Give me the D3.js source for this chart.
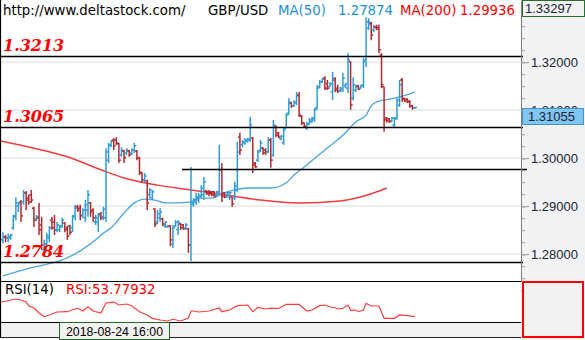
<!DOCTYPE html>
<html><head><meta charset="utf-8">
<script src="https://cdn.jsdelivr.net/npm/d3@7"></script>
<style>
html,body{margin:0;padding:0;background:#fff;}
svg{display:block;}
</style></head><body>
<svg id="chart" width="585" height="340"></svg>
<script>
// GBP/USD price bars (oldest first)
const opens = [
1.2830,1.2836,1.2834,1.2834,1.2855,1.2878,1.2901,1.2909,1.2909,1.2928,
1.2917,1.2924,1.2896,1.2874,1.2876,1.2861,1.2809,1.2821,1.2834,1.2871,
1.2867,1.2851,1.2851,1.2859,1.2865,1.2855,1.2859,1.2855,1.2880,1.2899,
1.2896,1.2882,1.2876,1.2892,1.2907,1.2892,1.2867,1.2867,1.2884,1.2878,
1.2876,1.2996,1.3028,1.3038,1.3038,1.3030,1.3007,1.3015,1.3011,1.3015,
1.3011,1.3017,1.3015,1.3001,1.2969,1.2955,1.2953,1.2924,1.2917,1.2894,
1.2867,1.2876,1.2874,1.2859,1.2857,1.2859,1.2821,1.2859,1.2851,1.2863,
1.2861,1.2855,1.2853,1.2819,1.2903,1.2909,1.2913,1.2921,1.2924,1.2932,
1.2930,1.2930,1.2930,1.2924,1.2930,1.2976,1.2928,1.2921,1.2919,1.2919,
1.2917,1.2934,1.3044,1.3028,1.3032,1.3036,1.3038,1.3042,1.2990,1.2996,
1.3017,1.3021,1.3017,1.3013,1.3038,1.3007,1.3065,1.3053,1.3040,1.3032,
1.3063,1.3094,1.3115,1.3109,1.3115,1.3132,1.3088,1.3074,1.3063,1.3071,
1.3076,1.3080,1.3105,1.3149,1.3159,1.3167,1.3155,1.3149,1.3138,1.3163,
1.3146,1.3140,1.3142,1.3151,1.3146,1.3201,1.3125,1.3142,1.3151,1.3146,
1.3153,1.3205,1.3271,1.3280,1.3267,1.3273,1.3273,1.3215,1.3149,1.3084,
1.3082,1.3078,1.3069,1.3084,1.3111,1.3163,1.3125,1.3123,1.3119,1.3109,
1.3105];
const highs = [
1.2846,1.2840,1.2844,1.2842,1.2882,1.2919,1.2909,1.2913,1.2934,1.2932,
1.2924,1.2934,1.2899,1.2882,1.2907,1.2878,1.2830,1.2844,1.2859,1.2878,
1.2882,1.2867,1.2861,1.2876,1.2867,1.2859,1.2861,1.2882,1.2903,1.2903,
1.2903,1.2896,1.2913,1.2934,1.2909,1.2896,1.2882,1.2886,1.2888,1.2899,
1.3021,1.3032,1.3038,1.3042,1.3044,1.3032,1.3023,1.3017,1.3021,1.3017,
1.3021,1.3032,1.3017,1.3003,1.2971,1.2969,1.2955,1.2938,1.2934,1.2896,
1.2892,1.2896,1.2876,1.2869,1.2861,1.2861,1.2861,1.2871,1.2871,1.2865,
1.2863,1.2865,1.2855,1.2982,1.2917,1.2928,1.2928,1.2944,1.2961,1.2934,
1.2934,1.2932,1.2932,1.2932,1.3028,1.2990,1.2930,1.2930,1.2930,1.2919,
1.2951,1.3034,1.3053,1.3038,1.3042,1.3042,1.3086,1.3044,1.2992,1.3017,
1.3038,1.3023,1.3021,1.3044,1.3042,1.3080,1.3069,1.3055,1.3048,1.3065,
1.3094,1.3125,1.3117,1.3121,1.3138,1.3138,1.3090,1.3074,1.3076,1.3084,
1.3086,1.3105,1.3153,1.3163,1.3167,1.3171,1.3163,1.3159,1.3180,1.3169,
1.3153,1.3149,1.3178,1.3157,1.3219,1.3201,1.3169,1.3153,1.3153,1.3153,
1.3209,1.3294,1.3292,1.3284,1.3278,1.3278,1.3278,1.3219,1.3149,1.3086,
1.3084,1.3086,1.3086,1.3125,1.3163,1.3167,1.3125,1.3125,1.3121,1.3111,
1.3107];
const lows = [
1.2823,1.2825,1.2825,1.2830,1.2851,1.2871,1.2888,1.2867,1.2903,1.2892,
1.2903,1.2907,1.2857,1.2869,1.2840,1.2809,1.2798,1.2815,1.2825,1.2851,
1.2840,1.2846,1.2846,1.2855,1.2846,1.2830,1.2840,1.2846,1.2871,1.2888,
1.2871,1.2876,1.2867,1.2878,1.2878,1.2867,1.2861,1.2846,1.2871,1.2871,
1.2867,1.2990,1.3023,1.3017,1.3028,1.2990,1.3003,1.2990,1.3007,1.3003,
1.3007,1.3011,1.2996,1.2965,1.2949,1.2949,1.2892,1.2917,1.2913,1.2857,
1.2863,1.2867,1.2859,1.2855,1.2855,1.2817,1.2813,1.2857,1.2840,1.2851,
1.2851,1.2851,1.2803,1.2786,1.2899,1.2903,1.2907,1.2917,1.2913,1.2924,
1.2921,1.2921,1.2919,1.2921,1.2924,1.2909,1.2917,1.2919,1.2913,1.2899,
1.2913,1.2930,1.3007,1.3023,1.3028,1.3032,1.3034,1.2969,1.2980,1.2992,
1.3013,1.3007,1.3007,1.3011,1.2980,1.3003,1.3044,1.3042,1.3038,1.3028,
1.3063,1.3090,1.3105,1.3107,1.3111,1.3086,1.3069,1.3065,1.3059,1.3069,
1.3074,1.3076,1.3101,1.3146,1.3157,1.3142,1.3142,1.3149,1.3121,1.3138,
1.3136,1.3138,1.3138,1.3146,1.3136,1.3101,1.3121,1.3138,1.3142,1.3146,
1.3146,1.3190,1.3267,1.3246,1.3263,1.3267,1.3219,1.3146,1.3055,1.3074,
1.3074,1.3076,1.3065,1.3080,1.3107,1.3117,1.3117,1.3115,1.3105,1.3101,
1.3103];
const closes = [
1.2836,1.2834,1.2838,1.2840,1.2880,1.2907,1.2905,1.2880,1.2928,1.2913,
1.2909,1.2913,1.2871,1.2878,1.2851,1.2819,1.2821,1.2838,1.2855,1.2855,
1.2851,1.2861,1.2857,1.2871,1.2851,1.2838,1.2846,1.2878,1.2896,1.2892,
1.2880,1.2892,1.2903,1.2924,1.2888,1.2876,1.2876,1.2880,1.2876,1.2894,
1.3013,1.3026,1.3036,1.3026,1.3032,1.2996,1.3017,1.3001,1.3017,1.3007,
1.3017,1.3026,1.3001,1.2971,1.2955,1.2963,1.2907,1.2934,1.2930,1.2863,
1.2884,1.2888,1.2863,1.2867,1.2859,1.2830,1.2855,1.2867,1.2867,1.2855,
1.2853,1.2861,1.2819,1.2907,1.2913,1.2919,1.2921,1.2938,1.2951,1.2926,
1.2926,1.2924,1.2921,1.2930,1.2976,1.2921,1.2919,1.2928,1.2928,1.2905,
1.2942,1.3013,1.3017,1.3034,1.3038,1.3040,1.3069,1.2986,1.2982,1.3013,
1.3032,1.3011,1.3013,1.3038,1.2996,1.3069,1.3048,1.3044,1.3046,1.3059,
1.3090,1.3117,1.3109,1.3117,1.3130,1.3090,1.3074,1.3067,1.3071,1.3080,
1.3084,1.3101,1.3146,1.3159,1.3165,1.3146,1.3146,1.3155,1.3167,1.3142,
1.3140,1.3146,1.3167,1.3155,1.3205,1.3111,1.3153,1.3149,1.3144,1.3151,
1.3201,1.3284,1.3284,1.3257,1.3273,1.3269,1.3226,1.3153,1.3080,1.3078,
1.3076,1.3084,1.3082,1.3121,1.3153,1.3123,1.3119,1.3117,1.3109,1.3105,
1.31055];

// Moving averages as [bar index, value]
const ma50 = [[0,1.2755],[9,1.2769],[16,1.2778],[22,1.2786],[30,1.2807],[36,1.2830],[39,1.2844],[42,1.2855],
  [47,1.2886],[51,1.2907],[55,1.2915],[59,1.2913],[63,1.2907],[67,1.2907],[73,1.2909],[76,1.2917],[81,1.2917],
  [86,1.2928],[90,1.2934],[95,1.2938],[100,1.2938],[104,1.2938],[110,1.2949],[113,1.2965],[117,1.2982],
  [125,1.3017],[133,1.3053],[137,1.3076],[141,1.3090],[143,1.3109],[146,1.3119],[150,1.3123],[154,1.3128],[160,1.3138]];
const ma200 = [[-1,1.3036],[12,1.3021],[25,1.3003],[38,1.2976],[47,1.2959],[60,1.2944],[73,1.2934],[86,1.2924],
  [100,1.2913],[115,1.2907],[131,1.2911],[143,1.2926],[149,1.2938]];

// RSI(14) as [bar index, value]
const rsi = [[-1,72.3],[5,76.5],[7,75.2],[9,72.6],[10,67.9],[12,64.9],[14,58.5],[16,53.8],[18,56.0],[21,59.8],
  [25,60.2],[29,64.9],[31,61.1],[33,66.6],[35,61.1],[38,58.5],[40,71.4],[43,72.6],[45,68.8],[48,70.1],[50,67.9],
  [53,60.2],[56,56.0],[58,51.7],[61,49.6],[64,48.3],[66,50.5],[69,48.3],[72,52.1],[73,61.1],[74,61.1],[76,59.8],
  [80,61.1],[84,64.9],[85,60.2],[88,62.4],[91,67.9],[95,68.8],[97,60.2],[99,65.8],[102,63.7],[104,64.9],[107,64.3],
  [110,69.7],[115,69.7],[118,61.1],[120,62.4],[123,67.9],[125,68.8],[127,66.2],[129,65.3],[130,63.7],[132,64.6],
  [134,68.8],[135,62.0],[137,62.4],[138,60.2],[140,62.4],[141,71.0],[143,67.5],[146,67.5],[148,51.7],[152,51.7],
  [154,56.0],[157,55.1],[160,53.77932]];

// Support / resistance levels
const levels = [1.3213, 1.3065, 1.2784];
const partialLevel = {value: 1.2977, fromBar: 69.5};
const priceTicks = [1.28, 1.29, 1.30, 1.31, 1.32];
const axisTop = 1.33297;
const axisBottom = 1.274428;
const lastPrice = 1.31055;
const rsiDomain = [47, 98.3];
const cursorDate = "2018-08-24 16:00";
const header = {site: "http://www.deltastock.com/", pair: "GBP/USD", ma50: "1.27874", ma200: "1.29936"};

const W = 585, plotR = 521, mainB = 281, rsiT = 282, rsiB = 322, dateB = 337;
const UP = "#2f9bd6", DOWN = "#b3282d";
const svg = d3.select("#chart");
const n = closes.length;

const x = d3.scaleLinear().domain([0, n - 1]).range([3, 415]);
const y = d3.scaleLinear().domain([axisBottom, axisTop]).range([mainB, 0]);
const yr = d3.scaleLinear().domain(rsiDomain).range([rsiB, rsiT]);

svg.append("rect").attr("width", W).attr("height", 340).attr("fill", "#fff");
// right price axis panel
svg.append("rect").attr("x", plotR).attr("y", 0).attr("width", W - plotR).attr("height", 340).attr("fill", "#f2f2f2");
// date band
svg.append("rect").attr("x", 0).attr("y", rsiB).attr("width", plotR).attr("height", dateB - rsiB).attr("fill", "#f2f2f2");

const defs = svg.append("defs");
defs.append("clipPath").attr("id", "mainClip").append("rect")
  .attr("x", 0).attr("y", 0).attr("width", plotR).attr("height", mainB);
defs.append("clipPath").attr("id", "rsiClip").append("rect")
  .attr("x", 0).attr("y", rsiT).attr("width", plotR).attr("height", rsiB - rsiT);

const main = svg.append("g").attr("clip-path", "url(#mainClip)");

// grid
main.selectAll("line.grid").data(priceTicks).join("line")
  .attr("x1", 0).attr("x2", plotR)
  .attr("y1", d => y(d)).attr("y2", d => y(d))
  .attr("stroke", "#e8e8e8").attr("stroke-width", 1.6);

// moving averages
const lineGen = d3.line().x(d => x(d[0])).y(d => y(d[1])).curve(d3.curveMonotoneX);
main.append("path").datum(ma200).attr("d", lineGen)
  .attr("fill", "none").attr("stroke", "#f23b3b").attr("stroke-width", 1.5);
main.append("path").datum(ma50).attr("d", lineGen)
  .attr("fill", "none").attr("stroke", "#4aa6dc").attr("stroke-width", 1.3);

// OHLC bars
const bars = main.selectAll("g.bar").data(d3.range(n)).join("g")
  .attr("stroke", i => closes[i] >= opens[i] ? UP : DOWN)
  .attr("stroke-width", 1.5);
bars.append("line")
  .attr("x1", i => x(i)).attr("x2", i => x(i))
  .attr("y1", i => y(highs[i])).attr("y2", i => y(lows[i]));
bars.append("line")
  .attr("x1", i => x(i) - 2).attr("x2", i => x(i))
  .attr("y1", i => y(opens[i])).attr("y2", i => y(opens[i]));
bars.append("line")
  .attr("x1", i => x(i)).attr("x2", i => x(i) + 2)
  .attr("y1", i => y(closes[i])).attr("y2", i => y(closes[i]));

// level lines (drawn over the plot edge)
svg.selectAll("line.level").data(levels).join("line")
  .attr("x1", 0).attr("x2", plotR + 2)
  .attr("y1", d => Math.round(y(d)) + 0.5).attr("y2", d => Math.round(y(d)) + 0.5)
  .attr("stroke", "#000").attr("stroke-width", 1.3);
svg.append("line")
  .attr("x1", x(partialLevel.fromBar)).attr("x2", plotR + 6)
  .attr("y1", Math.round(y(partialLevel.value)) + 0.5).attr("y2", Math.round(y(partialLevel.value)) + 0.5)
  .attr("stroke", "#000").attr("stroke-width", 1.3);

// level labels
svg.selectAll("text.lvl").data(levels).join("text")
  .attr("x", 3).attr("y", d => y(d) - 5)
  .attr("font-family", "DejaVu Serif").attr("font-weight", "bold").attr("font-style", "italic")
  .attr("font-size", 16).attr("fill", "#ff0000")
  .text(d => d.toFixed(4));

// price axis
const axisG = svg.append("g").attr("transform", `translate(${plotR},0)`);
const minor = d3.range(1.2725, 1.3335, 0.0025);
axisG.append("g").call(d3.axisRight(y).tickValues(minor).tickSize(4).tickSizeOuter(0).tickFormat(""))
  .call(g => g.select(".domain").attr("stroke", "#7a7a7a"))
  .call(g => g.selectAll(".tick line").attr("stroke", "#9a9a9a"));
axisG.append("g").call(d3.axisRight(y).tickValues(priceTicks).tickSize(8).tickSizeOuter(0).tickPadding(2)
    .tickFormat(d3.format(".5f")))
  .call(g => g.select(".domain").remove())
  .call(g => g.selectAll(".tick line").attr("stroke", "#9a9a9a"))
  .call(g => g.selectAll(".tick text").attr("font-family", "Liberation Sans").attr("font-size", 13)
    .attr("fill", "#1a2238"));

// current price marker
svg.append("rect").attr("x", plotR + 1.5).attr("y", Math.round(y(lastPrice)) + 0.5)
  .attr("width", 61).attr("height", 16).attr("fill", "#80c6ee").attr("stroke", "#3d93d3");
svg.append("text").attr("x", plotR + 7).attr("y", y(lastPrice) + 13)
  .attr("font-family", "Liberation Sans").attr("font-size", 13).attr("fill", "#1a2238")
  .text(d3.format(".5f")(lastPrice));

// top-of-scale marker
svg.append("rect").attr("x", plotR + 1.5).attr("y", y(axisTop) + 0.5)
  .attr("width", 62).attr("height", 16).attr("fill", "#f2f2f2").attr("stroke", "#2b6e2b");
svg.append("text").attr("x", plotR + 4).attr("y", y(axisTop) + 13)
  .attr("font-family", "Liberation Sans").attr("font-size", 13).attr("fill", "#1a2238")
  .text(d3.format(".5f")(axisTop));

// RSI panel
svg.append("line").attr("x1", 0).attr("x2", plotR).attr("y1", mainB + 0.5).attr("y2", mainB + 0.5)
  .attr("stroke", "#000").attr("stroke-width", 1.2);
svg.append("line").attr("x1", 0).attr("x2", plotR).attr("y1", rsiB + 0.5).attr("y2", rsiB + 0.5)
  .attr("stroke", "#000").attr("stroke-width", 1.2);
svg.append("g").attr("clip-path", "url(#rsiClip)").append("path").datum(rsi)
  .attr("d", d3.line().x(d => x(d[0])).y(d => yr(d[1])))
  .attr("fill", "none").attr("stroke", "#ff3b3b").attr("stroke-width", 1.2);
svg.append("text").attr("x", 5).attr("y", 294)
  .attr("font-family", "DejaVu Sans").attr("font-size", 13.3).attr("fill", "#000").text("RSI(14)");
svg.append("text").attr("x", 66).attr("y", 294)
  .attr("font-family", "DejaVu Sans").attr("font-size", 13.3).attr("fill", "#ff0000")
  .text("RSI:" + rsi[rsi.length - 1][1].toFixed(5));
svg.append("rect").attr("x", plotR + 2).attr("y", rsiT).attr("width", 60).attr("height", dateB - rsiT)
  .attr("fill", "#f2f2f2").attr("stroke", "#ff0000").attr("stroke-width", 2);

// date band
svg.append("line").attr("x1", 0).attr("x2", plotR).attr("y1", dateB + 0.5).attr("y2", dateB + 0.5)
  .attr("stroke", "#222").attr("stroke-width", 1);
svg.append("rect").attr("x", 59.5).attr("y", rsiB + 0.5).attr("width", 110).attr("height", 17)
  .attr("fill", "#f2f2f2").attr("stroke", "#1f6b1f");
svg.append("text").attr("x", 114.5).attr("y", rsiB + 13.5).attr("text-anchor", "middle")
  .attr("font-family", "Liberation Sans").attr("font-size", 12.3).attr("fill", "#000").text(cursorDate);

// left frame edge
svg.append("line").attr("x1", 0.5).attr("x2", 0.5).attr("y1", 0).attr("y2", dateB)
  .attr("stroke", "#000").attr("stroke-width", 1.2);

// header
const hdr = svg.append("g").attr("font-family", "DejaVu Sans").attr("font-size", 13.3);
hdr.append("text").attr("x", 3).attr("y", 15).attr("fill", "#000").text(header.site);
hdr.append("text").attr("x", 208).attr("y", 15).attr("fill", "#000").text(header.pair);
hdr.append("text").attr("x", 278).attr("y", 15).attr("fill", "#1d8fd6").text("MA(50)");
hdr.append("text").attr("x", 338).attr("y", 15).attr("fill", "#1d8fd6").text(header.ma50);
hdr.append("text").attr("x", 400).attr("y", 15).attr("fill", "#ff0000").text("MA(200)");
hdr.append("text").attr("x", 460).attr("y", 15).attr("fill", "#ff0000").text(header.ma200);
</script>
</body></html>
